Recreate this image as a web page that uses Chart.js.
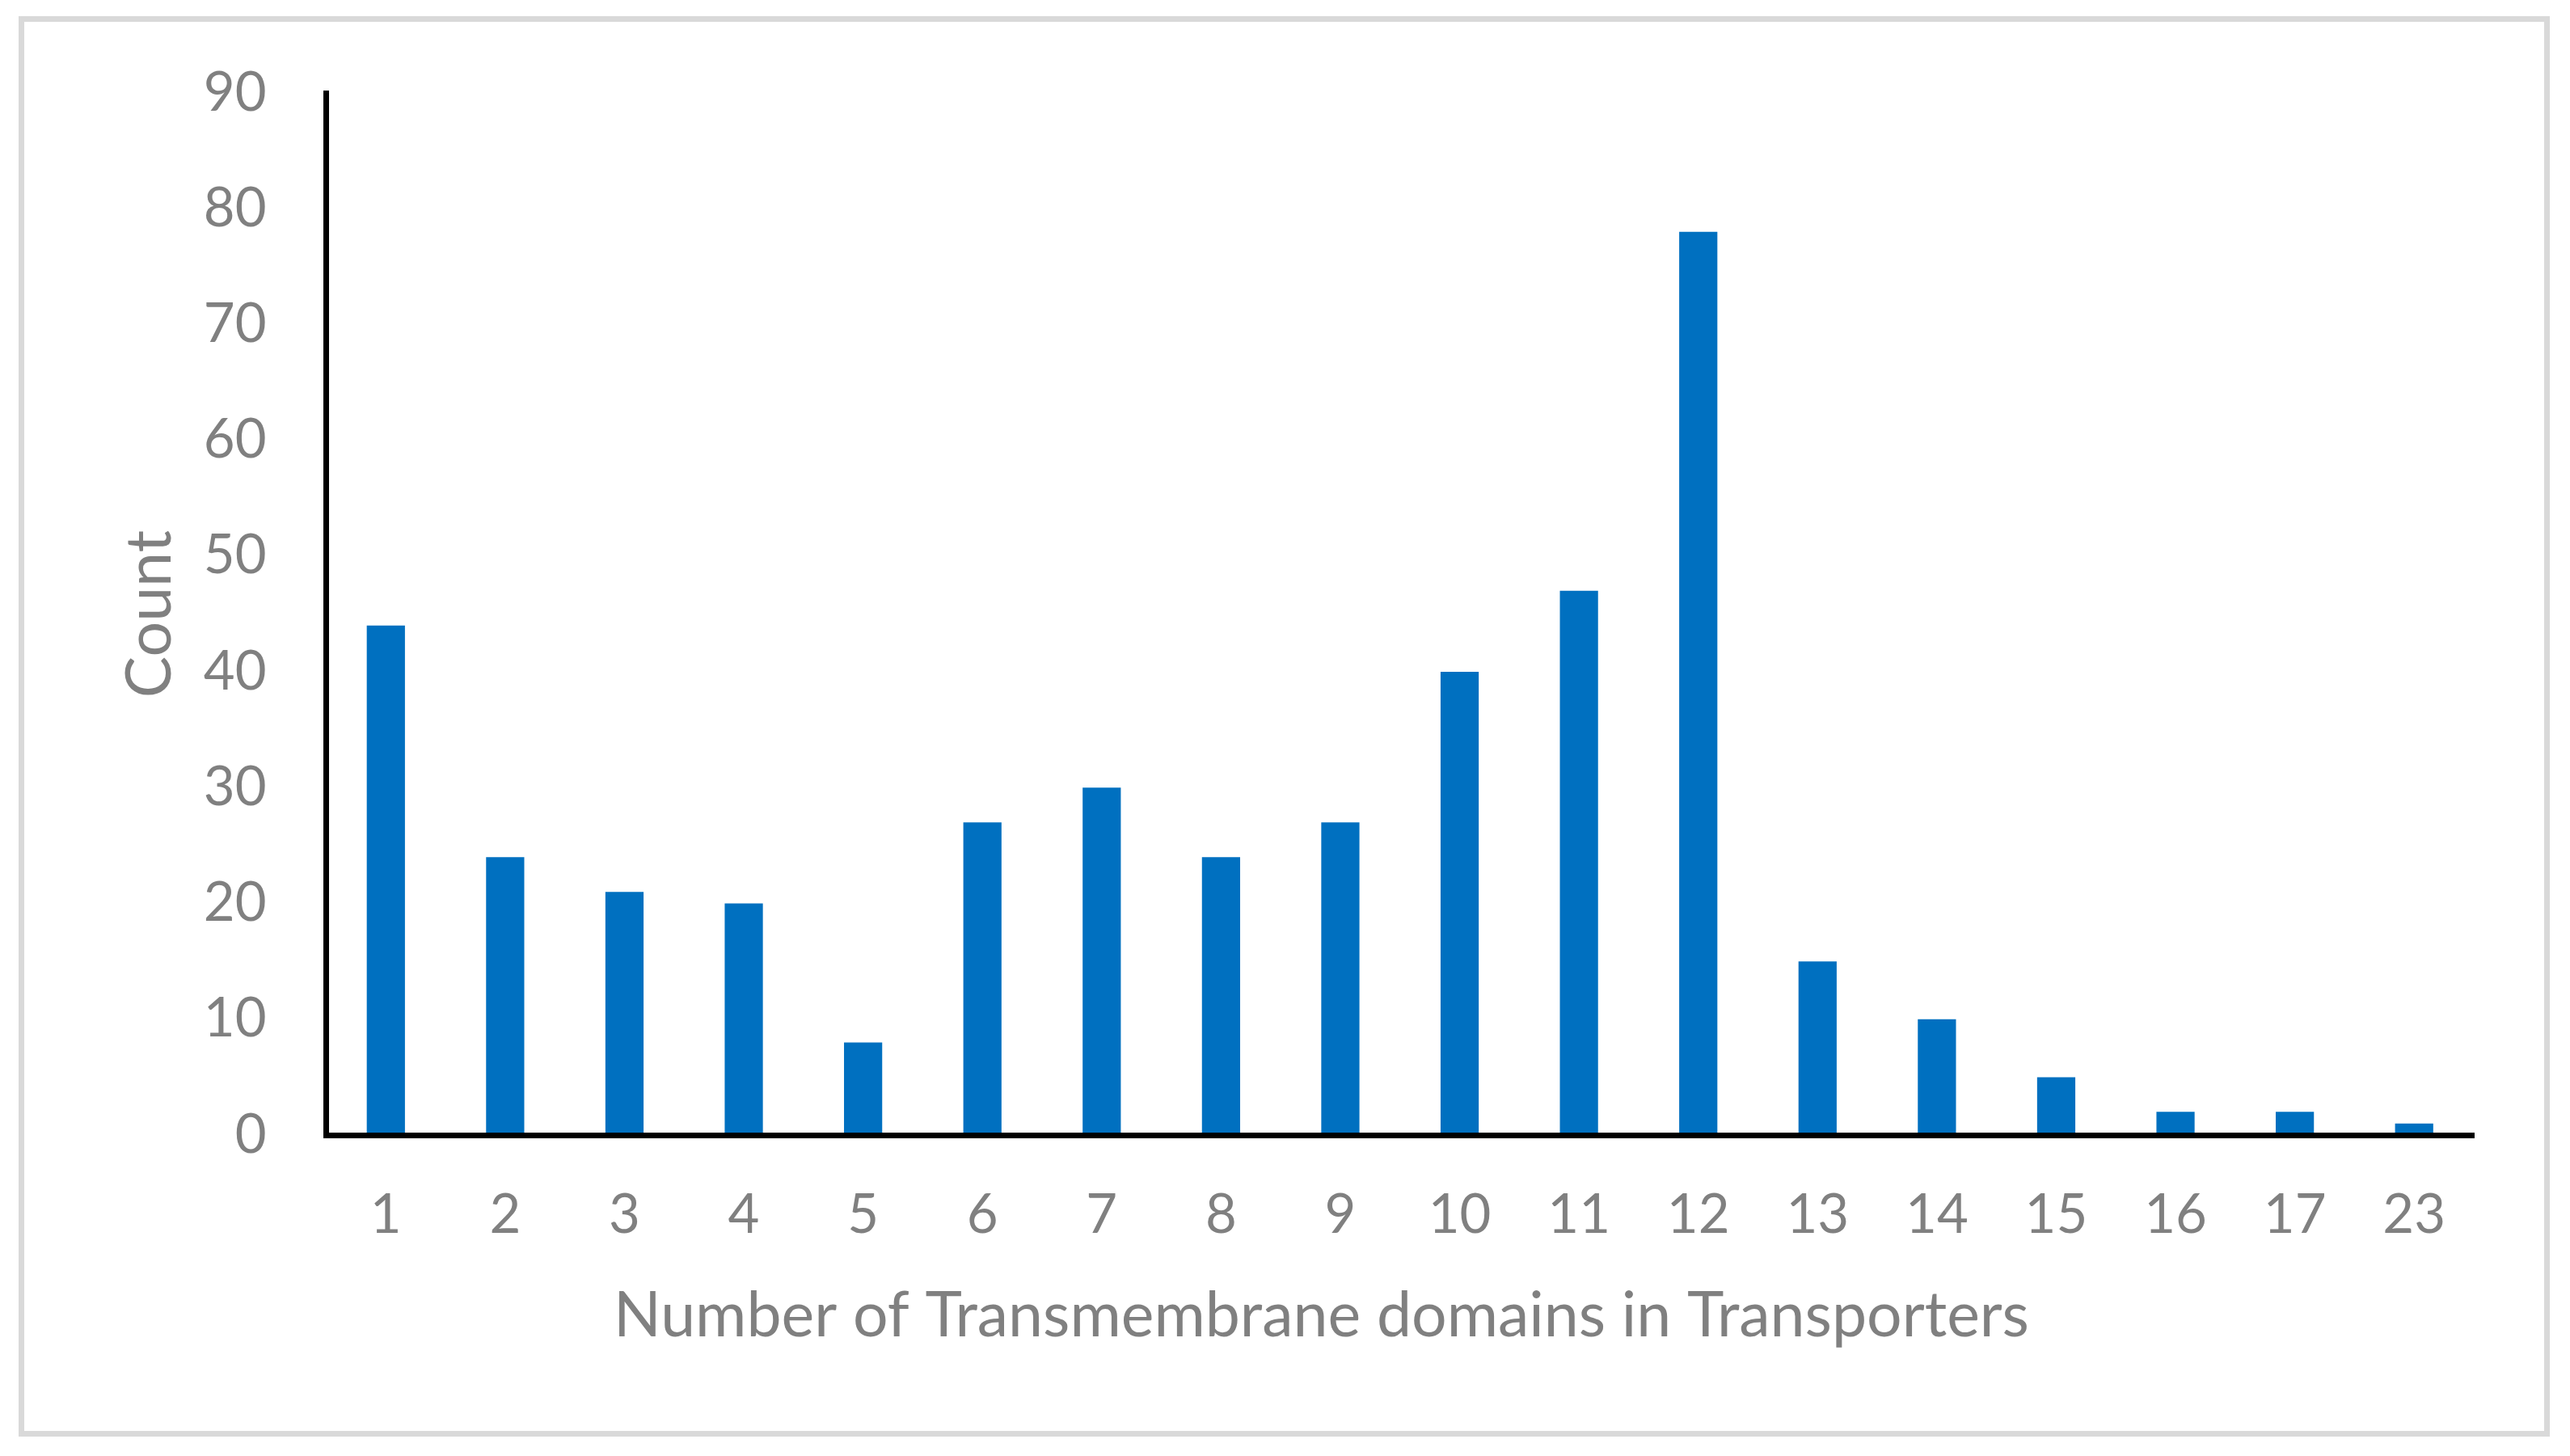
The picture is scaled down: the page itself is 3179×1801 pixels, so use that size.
<!DOCTYPE HTML>
<html>

<head>
    <title>Transmembrane domains</title>
    <meta charset="utf-8">
    <script src="https://cdn.jsdelivr.net/npm/chart.js@4.4.0/dist/chart.umd.min.js"></script>
    <style>
        body {
            margin: 0;
            background: #fff;
        }

        .container {
            position: relative;
            width: 3179px;
            height: 1801px;
        }

        /* grey outer frame */
        .frame {
            position: absolute;
            left: 23px;
            top: 20px;
            width: 3131px;
            height: 1757px;
            border: 7px solid #d9d9d9;
            box-sizing: border-box;
        }

        #chart {
            position: absolute;
            top: 0;
            left: 0;
        }
    </style>
</head>

<body>
    <section class="container">
        <div class="frame"></div>
        <canvas id="chart" width=3179 height=1801></canvas>
    </section>

    <script>
        var categories = ['1', '2', '3', '4', '5', '6', '7', '8', '9', '10', '11', '12', '13', '14', '15', '16', '17', '23'];
        var counts = [44, 24, 21, 20, 8, 27, 30, 24, 27, 40, 47, 78, 15, 10, 5, 2, 2, 1];
        var yTicks = [0, 10, 20, 30, 40, 50, 60, 70, 80, 90];

        var xTitle = 'Number of Transmembrane domains in Transporters';
        var yTitle = 'Count';

        var gray = '#808080';
        var fontFamily = 'Lato, "Open Sans", sans-serif';

        var ctx = document.getElementById('chart').getContext('2d');

        var chart = new Chart(ctx, {
            type: 'bar',
            data: {
                labels: categories,
                datasets: [{
                    data: counts,
                    backgroundColor: '#0070C0',
                    borderWidth: 0,
                    categoryPercentage: 1,
                    barPercentage: 0.32
                }]
            },
            options: {
                responsive: false,
                animation: false,
                devicePixelRatio: 1,
                layout: {
                    padding: { left: 90, right: 0, top: 115, bottom: 126.6 }
                },
                plugins: {
                    legend: { display: false },
                    tooltip: { enabled: false },
                    // x axis title goes through the title plugin so it centres like Excel does
                    title: {
                        display: true,
                        position: 'bottom',
                        text: xTitle,
                        color: gray,
                        font: { family: fontFamily, size: 77, weight: 'normal', lineHeight: 1.2 },
                        padding: { top: 8, bottom: 0 }
                    }
                },
                scales: {
                    x: {
                        grid: { display: false, drawTicks: false },
                        border: { display: true, color: '#000', width: 7, z: 1 },
                        ticks: {
                            color: gray,
                            padding: 59,
                            font: { family: fontFamily, size: 67 }
                        },
                        afterFit: function (s) { s.height = 170; }
                    },
                    y: {
                        min: yTicks[0],
                        max: yTicks[yTicks.length - 1],
                        grid: { display: false, drawTicks: false },
                        border: { display: true, color: '#000', width: 7, z: 1 },
                        ticks: {
                            stepSize: yTicks[1] - yTicks[0],
                            color: gray,
                            padding: 74,
                            font: { family: fontFamily, size: 67 }
                        },
                        title: {
                            display: true,
                            text: yTitle,
                            color: gray,
                            font: { family: fontFamily, size: 77 },
                            padding: { top: 50, bottom: 0 }
                        },
                        afterFit: function (s) { s.width = 313.5; }
                    },
                    // empty spacer on the right, keeps the plot end where the reference has it
                    yR: {
                        position: 'right',
                        grid: { display: false },
                        border: { display: false },
                        ticks: { display: false },
                        afterFit: function (s) { s.width = 119; }
                    }
                }
            }
        });
    </script>
</body>

</html>
